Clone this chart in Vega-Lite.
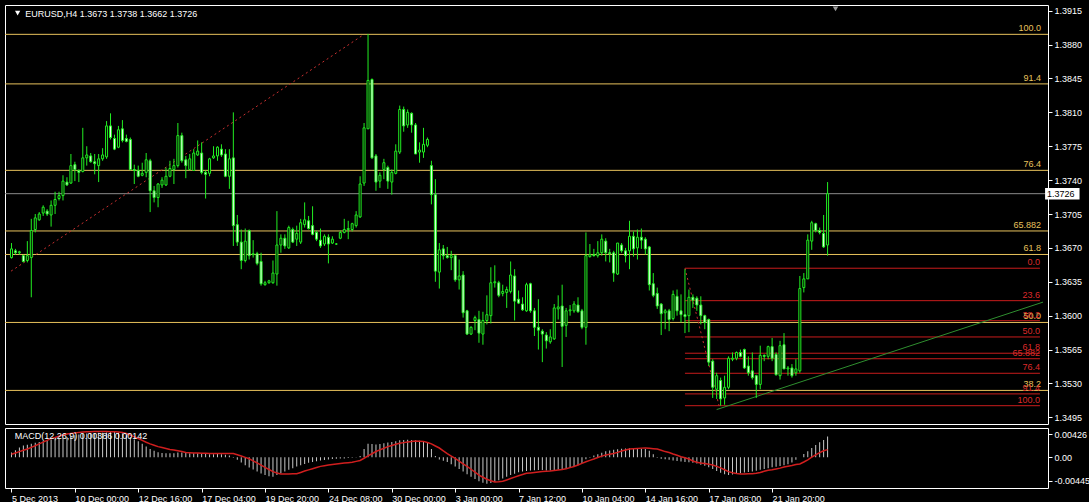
{
"$schema": "https://vega.github.io/schema/vega-lite/v6.json",
"background": "#000000",
"padding": {"left": 4, "top": 4, "right": 0, "bottom": 0},
"spacing": 2,
"config": {
 "view": {"stroke": "#FFFFFF", "strokeWidth": 1},
 "axis": {"labelColor": "#FFFFFF", "tickColor": "#FFFFFF", "domain": false, "grid": false, "labelFont": "Liberation Sans", "labelFontSize": 9, "tickSize": 4, "labelPadding": 2, "labelOverlap": false, "labelBound": false}
},
"datasets": {
"candles": [
{"i":0,"o":1.3660,"h":1.3675,"l":1.3659,"c":1.3669},
{"i":1,"o":1.3667,"h":1.3669,"l":1.3663,"c":1.3665},
{"i":2,"o":1.3665,"h":1.3667,"l":1.3663,"c":1.3666},
{"i":3,"o":1.3662,"h":1.3663,"l":1.3655,"c":1.3656},
{"i":4,"o":1.3657,"h":1.3677,"l":1.3655,"c":1.3662},
{"i":5,"o":1.3660,"h":1.3700,"l":1.3619,"c":1.3688},
{"i":6,"o":1.3689,"h":1.3705,"l":1.3686,"c":1.3701},
{"i":7,"o":1.3699,"h":1.3707,"l":1.3698,"c":1.3705},
{"i":8,"o":1.3706,"h":1.3714,"l":1.3703,"c":1.3712},
{"i":9,"o":1.3708,"h":1.3710,"l":1.3703,"c":1.3705},
{"i":10,"o":1.3704,"h":1.3719,"l":1.3692,"c":1.3714},
{"i":11,"o":1.3714,"h":1.3728,"l":1.3705,"c":1.3720},
{"i":12,"o":1.3721,"h":1.3728,"l":1.3719,"c":1.3724},
{"i":13,"o":1.3724,"h":1.3745,"l":1.3719,"c":1.3739},
{"i":14,"o":1.3738,"h":1.3743,"l":1.3734,"c":1.3735},
{"i":15,"o":1.3737,"h":1.3767,"l":1.3736,"c":1.3755},
{"i":16,"o":1.3756,"h":1.3759,"l":1.3739,"c":1.3751},
{"i":17,"o":1.3750,"h":1.3751,"l":1.3738,"c":1.3748},
{"i":18,"o":1.3749,"h":1.3794,"l":1.3748,"c":1.3763},
{"i":19,"o":1.3763,"h":1.3775,"l":1.3755,"c":1.3766},
{"i":20,"o":1.3765,"h":1.3768,"l":1.3758,"c":1.3759},
{"i":21,"o":1.3759,"h":1.3767,"l":1.3746,"c":1.3757},
{"i":22,"o":1.3755,"h":1.3767,"l":1.3738,"c":1.3762},
{"i":23,"o":1.3762,"h":1.3773,"l":1.3760,"c":1.3766},
{"i":24,"o":1.3764,"h":1.3801,"l":1.3762,"c":1.3796},
{"i":25,"o":1.3796,"h":1.3809,"l":1.3782,"c":1.3784},
{"i":26,"o":1.3783,"h":1.3787,"l":1.3771,"c":1.3772},
{"i":27,"o":1.3774,"h":1.3796,"l":1.3773,"c":1.3792},
{"i":28,"o":1.3793,"h":1.3802,"l":1.3779,"c":1.3781},
{"i":29,"o":1.3783,"h":1.3787,"l":1.3779,"c":1.3780},
{"i":30,"o":1.3782,"h":1.3784,"l":1.3750,"c":1.3751},
{"i":31,"o":1.3751,"h":1.3756,"l":1.3736,"c":1.3750},
{"i":32,"o":1.3750,"h":1.3755,"l":1.3743,"c":1.3744},
{"i":33,"o":1.3745,"h":1.3758,"l":1.3744,"c":1.3747},
{"i":34,"o":1.3748,"h":1.3768,"l":1.3743,"c":1.3761},
{"i":35,"o":1.3760,"h":1.3762,"l":1.3707,"c":1.3729},
{"i":36,"o":1.3729,"h":1.3734,"l":1.3717,"c":1.3722},
{"i":37,"o":1.3722,"h":1.3737,"l":1.3712,"c":1.3736},
{"i":38,"o":1.3735,"h":1.3743,"l":1.3732,"c":1.3740},
{"i":39,"o":1.3735,"h":1.3753,"l":1.3734,"c":1.3744},
{"i":40,"o":1.3744,"h":1.3760,"l":1.3743,"c":1.3752},
{"i":41,"o":1.3751,"h":1.3762,"l":1.3736,"c":1.3755},
{"i":42,"o":1.3755,"h":1.3799,"l":1.3753,"c":1.3786},
{"i":43,"o":1.3786,"h":1.3789,"l":1.3758,"c":1.3760},
{"i":44,"o":1.3761,"h":1.3765,"l":1.3742,"c":1.3755},
{"i":45,"o":1.3751,"h":1.3767,"l":1.3750,"c":1.3762},
{"i":46,"o":1.3750,"h":1.3772,"l":1.3750,"c":1.3768},
{"i":47,"o":1.3766,"h":1.3781,"l":1.3765,"c":1.3770},
{"i":48,"o":1.3768,"h":1.3779,"l":1.3746,"c":1.3748},
{"i":49,"o":1.3748,"h":1.3750,"l":1.3721,"c":1.3746},
{"i":50,"o":1.3747,"h":1.3763,"l":1.3744,"c":1.3762},
{"i":51,"o":1.3763,"h":1.3775,"l":1.3762,"c":1.3765},
{"i":52,"o":1.3765,"h":1.3775,"l":1.3760,"c":1.3774},
{"i":53,"o":1.3772,"h":1.3777,"l":1.3764,"c":1.3766},
{"i":54,"o":1.3767,"h":1.3772,"l":1.3743,"c":1.3744},
{"i":55,"o":1.3744,"h":1.3772,"l":1.3731,"c":1.3762},
{"i":56,"o":1.3763,"h":1.3810,"l":1.3672,"c":1.3693},
{"i":57,"o":1.3694,"h":1.3704,"l":1.3672,"c":1.3676},
{"i":58,"o":1.3676,"h":1.3689,"l":1.3648,"c":1.3657},
{"i":59,"o":1.3657,"h":1.3690,"l":1.3655,"c":1.3677},
{"i":60,"o":1.3688,"h":1.3689,"l":1.3658,"c":1.3662},
{"i":61,"o":1.3663,"h":1.3678,"l":1.3660,"c":1.3664},
{"i":62,"o":1.3664,"h":1.3666,"l":1.3652,"c":1.3654},
{"i":63,"o":1.3656,"h":1.3665,"l":1.3631,"c":1.3633},
{"i":64,"o":1.3632,"h":1.3636,"l":1.3631,"c":1.3634},
{"i":65,"o":1.3634,"h":1.3637,"l":1.3633,"c":1.3636},
{"i":66,"o":1.3634,"h":1.3657,"l":1.3633,"c":1.3644},
{"i":67,"o":1.3643,"h":1.3708,"l":1.3631,"c":1.3673},
{"i":68,"o":1.3673,"h":1.3684,"l":1.3665,"c":1.3680},
{"i":69,"o":1.3680,"h":1.3684,"l":1.3669,"c":1.3672},
{"i":70,"o":1.3670,"h":1.3693,"l":1.3669,"c":1.3691},
{"i":71,"o":1.3689,"h":1.3691,"l":1.3675,"c":1.3676},
{"i":72,"o":1.3679,"h":1.3693,"l":1.3672,"c":1.3685},
{"i":73,"o":1.3676,"h":1.3700,"l":1.3674,"c":1.3696},
{"i":74,"o":1.3694,"h":1.3717,"l":1.3691,"c":1.3699},
{"i":75,"o":1.3698,"h":1.3703,"l":1.3689,"c":1.3690},
{"i":76,"o":1.3693,"h":1.3713,"l":1.3683,"c":1.3684},
{"i":77,"o":1.3686,"h":1.3688,"l":1.3677,"c":1.3679},
{"i":78,"o":1.3678,"h":1.3690,"l":1.3670,"c":1.3672},
{"i":79,"o":1.3674,"h":1.3684,"l":1.3672,"c":1.3682},
{"i":80,"o":1.3681,"h":1.3684,"l":1.3654,"c":1.3674},
{"i":81,"o":1.3675,"h":1.3682,"l":1.3674,"c":1.3679},
{"i":82,"o":1.3674,"h":1.3675,"l":1.3673,"c":1.3674},
{"i":83,"o":1.3680,"h":1.3688,"l":1.3679,"c":1.3686},
{"i":84,"o":1.3686,"h":1.3700,"l":1.3685,"c":1.3689},
{"i":85,"o":1.3689,"h":1.3698,"l":1.3679,"c":1.3690},
{"i":86,"o":1.3689,"h":1.3696,"l":1.3687,"c":1.3695},
{"i":87,"o":1.3693,"h":1.3708,"l":1.3691,"c":1.3704},
{"i":88,"o":1.3702,"h":1.3744,"l":1.3701,"c":1.3736},
{"i":89,"o":1.3737,"h":1.3799,"l":1.3734,"c":1.3794},
{"i":90,"o":1.3793,"h":1.3891,"l":1.3793,"c":1.3843},
{"i":91,"o":1.3844,"h":1.3845,"l":1.3762,"c":1.3763},
{"i":92,"o":1.3765,"h":1.3767,"l":1.3729,"c":1.3738},
{"i":93,"o":1.3739,"h":1.3748,"l":1.3732,"c":1.3745},
{"i":94,"o":1.3751,"h":1.3762,"l":1.3741,"c":1.3758},
{"i":95,"o":1.3753,"h":1.3755,"l":1.3731,"c":1.3739},
{"i":96,"o":1.3738,"h":1.3751,"l":1.3725,"c":1.3748},
{"i":97,"o":1.3747,"h":1.3777,"l":1.3746,"c":1.3770},
{"i":98,"o":1.3769,"h":1.3817,"l":1.3767,"c":1.3813},
{"i":99,"o":1.3813,"h":1.3816,"l":1.3790,"c":1.3796},
{"i":100,"o":1.3797,"h":1.3813,"l":1.3794,"c":1.3810},
{"i":101,"o":1.3809,"h":1.3810,"l":1.3789,"c":1.3797},
{"i":102,"o":1.3797,"h":1.3799,"l":1.3767,"c":1.3767},
{"i":103,"o":1.3769,"h":1.3779,"l":1.3758,"c":1.3771},
{"i":104,"o":1.3769,"h":1.3794,"l":1.3763,"c":1.3777},
{"i":105,"o":1.3776,"h":1.3784,"l":1.3774,"c":1.3782},
{"i":106,"o":1.3755,"h":1.3760,"l":1.3715,"c":1.3725},
{"i":107,"o":1.3725,"h":1.3741,"l":1.3635,"c":1.3646},
{"i":108,"o":1.3645,"h":1.3675,"l":1.3628,"c":1.3668},
{"i":109,"o":1.3669,"h":1.3673,"l":1.3658,"c":1.3662},
{"i":110,"o":1.3662,"h":1.3671,"l":1.3659,"c":1.3660},
{"i":111,"o":1.3660,"h":1.3667,"l":1.3647,"c":1.3662},
{"i":112,"o":1.3662,"h":1.3663,"l":1.3635,"c":1.3637},
{"i":113,"o":1.3637,"h":1.3658,"l":1.3627,"c":1.3641},
{"i":114,"o":1.3642,"h":1.3646,"l":1.3598,"c":1.3603},
{"i":115,"o":1.3605,"h":1.3606,"l":1.3580,"c":1.3581},
{"i":116,"o":1.3581,"h":1.3589,"l":1.3580,"c":1.3588},
{"i":117,"o":1.3595,"h":1.3600,"l":1.3585,"c":1.3598},
{"i":118,"o":1.3596,"h":1.3605,"l":1.3572,"c":1.3582},
{"i":119,"o":1.3581,"h":1.3604,"l":1.3570,"c":1.3595},
{"i":120,"o":1.3595,"h":1.3621,"l":1.3591,"c":1.3601},
{"i":121,"o":1.3600,"h":1.3650,"l":1.3592,"c":1.3634},
{"i":122,"o":1.3634,"h":1.3652,"l":1.3629,"c":1.3635},
{"i":123,"o":1.3634,"h":1.3636,"l":1.3619,"c":1.3621},
{"i":124,"o":1.3623,"h":1.3632,"l":1.3620,"c":1.3625},
{"i":125,"o":1.3624,"h":1.3630,"l":1.3608,"c":1.3627},
{"i":126,"o":1.3625,"h":1.3656,"l":1.3623,"c":1.3642},
{"i":127,"o":1.3641,"h":1.3648,"l":1.3595,"c":1.3615},
{"i":128,"o":1.3617,"h":1.3626,"l":1.3612,"c":1.3613},
{"i":129,"o":1.3612,"h":1.3619,"l":1.3605,"c":1.3606},
{"i":130,"o":1.3605,"h":1.3634,"l":1.3604,"c":1.3632},
{"i":131,"o":1.3633,"h":1.3634,"l":1.3603,"c":1.3605},
{"i":132,"o":1.3605,"h":1.3608,"l":1.3579,"c":1.3588},
{"i":133,"o":1.3588,"h":1.3617,"l":1.3565,"c":1.3585},
{"i":134,"o":1.3584,"h":1.3586,"l":1.3552,"c":1.3581},
{"i":135,"o":1.3580,"h":1.3583,"l":1.3566,"c":1.3574},
{"i":136,"o":1.3573,"h":1.3586,"l":1.3571,"c":1.3578},
{"i":137,"o":1.3576,"h":1.3612,"l":1.3575,"c":1.3608},
{"i":138,"o":1.3607,"h":1.3621,"l":1.3596,"c":1.3609},
{"i":139,"o":1.3610,"h":1.3632,"l":1.3547,"c":1.3589},
{"i":140,"o":1.3590,"h":1.3608,"l":1.3578,"c":1.3605},
{"i":141,"o":1.3605,"h":1.3611,"l":1.3600,"c":1.3606},
{"i":142,"o":1.3605,"h":1.3615,"l":1.3603,"c":1.3612},
{"i":143,"o":1.3611,"h":1.3619,"l":1.3603,"c":1.3604},
{"i":144,"o":1.3605,"h":1.3607,"l":1.3586,"c":1.3588},
{"i":145,"o":1.3588,"h":1.3686,"l":1.3570,"c":1.3662},
{"i":146,"o":1.3661,"h":1.3674,"l":1.3660,"c":1.3663},
{"i":147,"o":1.3663,"h":1.3669,"l":1.3661,"c":1.3662},
{"i":148,"o":1.3662,"h":1.3677,"l":1.3660,"c":1.3665},
{"i":149,"o":1.3665,"h":1.3684,"l":1.3662,"c":1.3679},
{"i":150,"o":1.3677,"h":1.3680,"l":1.3656,"c":1.3665},
{"i":151,"o":1.3665,"h":1.3669,"l":1.3655,"c":1.3664},
{"i":152,"o":1.3665,"h":1.3667,"l":1.3635,"c":1.3644},
{"i":153,"o":1.3643,"h":1.3675,"l":1.3642,"c":1.3675},
{"i":154,"o":1.3673,"h":1.3675,"l":1.3665,"c":1.3667},
{"i":155,"o":1.3667,"h":1.3670,"l":1.3655,"c":1.3662},
{"i":156,"o":1.3667,"h":1.3698,"l":1.3648,"c":1.3682},
{"i":157,"o":1.3682,"h":1.3687,"l":1.3661,"c":1.3669},
{"i":158,"o":1.3670,"h":1.3689,"l":1.3658,"c":1.3681},
{"i":159,"o":1.3681,"h":1.3690,"l":1.3669,"c":1.3678},
{"i":160,"o":1.3679,"h":1.3681,"l":1.3663,"c":1.3669},
{"i":161,"o":1.3671,"h":1.3672,"l":1.3626,"c":1.3632},
{"i":162,"o":1.3633,"h":1.3644,"l":1.3619,"c":1.3621},
{"i":163,"o":1.3623,"h":1.3629,"l":1.3607,"c":1.3610},
{"i":164,"o":1.3612,"h":1.3613,"l":1.3580,"c":1.3602},
{"i":165,"o":1.3603,"h":1.3607,"l":1.3586,"c":1.3605},
{"i":166,"o":1.3605,"h":1.3607,"l":1.3584,"c":1.3596},
{"i":167,"o":1.3597,"h":1.3626,"l":1.3595,"c":1.3622},
{"i":168,"o":1.3620,"h":1.3627,"l":1.3600,"c":1.3605},
{"i":169,"o":1.3605,"h":1.3622,"l":1.3593,"c":1.3601},
{"i":170,"o":1.3601,"h":1.3648,"l":1.3582,"c":1.3599},
{"i":171,"o":1.3600,"h":1.3627,"l":1.3583,"c":1.3619},
{"i":172,"o":1.3619,"h":1.3622,"l":1.3608,"c":1.3616},
{"i":173,"o":1.3618,"h":1.3620,"l":1.3605,"c":1.3611},
{"i":174,"o":1.3611,"h":1.3620,"l":1.3591,"c":1.3600},
{"i":175,"o":1.3600,"h":1.3601,"l":1.3586,"c":1.3593},
{"i":176,"o":1.3596,"h":1.3597,"l":1.3548,"c":1.3552},
{"i":177,"o":1.3553,"h":1.3555,"l":1.3515,"c":1.3526},
{"i":178,"o":1.3524,"h":1.3541,"l":1.3514,"c":1.3538},
{"i":179,"o":1.3533,"h":1.3536,"l":1.3507,"c":1.3514},
{"i":180,"o":1.3515,"h":1.3538,"l":1.3508,"c":1.3526},
{"i":181,"o":1.3526,"h":1.3558,"l":1.3524,"c":1.3556},
{"i":182,"o":1.3555,"h":1.3562,"l":1.3553,"c":1.3556},
{"i":183,"o":1.3556,"h":1.3563,"l":1.3554,"c":1.3562},
{"i":184,"o":1.3562,"h":1.3565,"l":1.3557,"c":1.3558},
{"i":185,"o":1.3565,"h":1.3566,"l":1.3545,"c":1.3546},
{"i":186,"o":1.3548,"h":1.3558,"l":1.3538,"c":1.3541},
{"i":187,"o":1.3543,"h":1.3562,"l":1.3534,"c":1.3536},
{"i":188,"o":1.3538,"h":1.3539,"l":1.3515,"c":1.3529},
{"i":189,"o":1.3529,"h":1.3569,"l":1.3524,"c":1.3559},
{"i":190,"o":1.3559,"h":1.3560,"l":1.3553,"c":1.3558},
{"i":191,"o":1.3558,"h":1.3569,"l":1.3555,"c":1.3568},
{"i":192,"o":1.3568,"h":1.3577,"l":1.3553,"c":1.3556},
{"i":193,"o":1.3560,"h":1.3562,"l":1.3538,"c":1.3539},
{"i":194,"o":1.3538,"h":1.3574,"l":1.3534,"c":1.3569},
{"i":195,"o":1.3570,"h":1.3582,"l":1.3545,"c":1.3545},
{"i":196,"o":1.3545,"h":1.3548,"l":1.3538,"c":1.3546},
{"i":197,"o":1.3546,"h":1.3550,"l":1.3536,"c":1.3538},
{"i":198,"o":1.3541,"h":1.3555,"l":1.3538,"c":1.3545},
{"i":199,"o":1.3543,"h":1.3641,"l":1.3541,"c":1.3628},
{"i":200,"o":1.3629,"h":1.3644,"l":1.3624,"c":1.3638},
{"i":201,"o":1.3638,"h":1.3684,"l":1.3638,"c":1.3678},
{"i":202,"o":1.3677,"h":1.3698,"l":1.3668,"c":1.3696},
{"i":203,"o":1.3695,"h":1.3696,"l":1.3686,"c":1.3688},
{"i":204,"o":1.3688,"h":1.3691,"l":1.3684,"c":1.3686},
{"i":205,"o":1.3685,"h":1.3704,"l":1.3670,"c":1.3671},
{"i":206,"o":1.3673,"h":1.3738,"l":1.3662,"c":1.3726}
],
"macd": [
{"i":0,"m":0.00088,"s":0.00055},{"i":1,"m":0.0013,"s":0.0008},{"i":2,"m":0.0018,"s":0.00105},{"i":3,"m":0.00218,"s":0.0013},{"i":4,"m":0.00235,"s":0.00153},
{"i":5,"m":0.0025,"s":0.00185},{"i":6,"m":0.0027,"s":0.00215},{"i":7,"m":0.00283,"s":0.0025},{"i":8,"m":0.003,"s":0.00283},{"i":9,"m":0.00315,"s":0.00315},
{"i":10,"m":0.0033,"s":0.00348},{"i":11,"m":0.0034,"s":0.0037},{"i":12,"m":0.0035,"s":0.00395},{"i":13,"m":0.00365,"s":0.00415},{"i":14,"m":0.0038,"s":0.00433},
{"i":15,"m":0.00395,"s":0.00445},{"i":16,"m":0.00413,"s":0.00455},{"i":17,"m":0.00425,"s":0.00465},{"i":18,"m":0.00435,"s":0.0047},{"i":19,"m":0.00445,"s":0.00475},
{"i":20,"m":0.0045,"s":0.00478},{"i":21,"m":0.00455,"s":0.0048},{"i":22,"m":0.0046,"s":0.0048},{"i":23,"m":0.0046,"s":0.0048},{"i":24,"m":0.00465,"s":0.0048},
{"i":25,"m":0.0047,"s":0.00478},{"i":26,"m":0.0047,"s":0.00475},{"i":27,"m":0.00465,"s":0.0047},{"i":28,"m":0.0045,"s":0.00465},{"i":29,"m":0.00413,"s":0.00445},
{"i":30,"m":0.0038,"s":0.00415},{"i":31,"m":0.0033,"s":0.0038},{"i":32,"m":0.003,"s":0.0035},{"i":33,"m":0.0025,"s":0.00316},{"i":34,"m":0.002,"s":0.0028},
{"i":35,"m":0.00153,"s":0.0025},{"i":36,"m":0.0012,"s":0.00225},{"i":37,"m":0.00095,"s":0.00198},{"i":38,"m":0.0008,"s":0.0018},{"i":39,"m":0.00075,"s":0.00163},
{"i":40,"m":0.00075,"s":0.00146},{"i":41,"m":0.00075,"s":0.00133},{"i":42,"m":0.0009,"s":0.0012},{"i":43,"m":0.0009,"s":0.00105},{"i":44,"m":0.0008,"s":0.00088},
{"i":45,"m":0.00075,"s":0.00084},{"i":46,"m":0.00075,"s":0.0008},{"i":47,"m":0.00075,"s":0.00077},{"i":48,"m":0.0007,"s":0.00075},{"i":49,"m":0.0006,"s":0.00073},
{"i":50,"m":0.00055,"s":0.0007},{"i":51,"m":0.00055,"s":0.00069},{"i":52,"m":0.0006,"s":0.00068},{"i":53,"m":0.00055,"s":0.00068},{"i":54,"m":0.00045,"s":0.00068},
{"i":55,"m":0.0003,"s":0.00068},{"i":56,"m":-0.0001,"s":0.00068},{"i":57,"m":-0.0005,"s":0.00045},{"i":58,"m":-0.001,"s":0.00023},{"i":59,"m":-0.0015,"s":-0.00003},
{"i":60,"m":-0.00192,"s":-0.00029},{"i":61,"m":-0.0023,"s":-0.0007},{"i":62,"m":-0.0027,"s":-0.00107},{"i":63,"m":-0.00305,"s":-0.0015},{"i":64,"m":-0.00335,"s":-0.00192},
{"i":65,"m":-0.00355,"s":-0.0023},{"i":66,"m":-0.00367,"s":-0.0027},{"i":67,"m":-0.00335,"s":-0.00295},{"i":68,"m":-0.00302,"s":-0.00315},{"i":69,"m":-0.0027,"s":-0.00315},
{"i":70,"m":-0.00237,"s":-0.00313},{"i":71,"m":-0.00205,"s":-0.0031},{"i":72,"m":-0.00172,"s":-0.00309},{"i":73,"m":-0.0015,"s":-0.00285},{"i":74,"m":-0.00127,"s":-0.0026},
{"i":75,"m":-0.00105,"s":-0.00237},{"i":76,"m":-0.00088,"s":-0.00215},{"i":77,"m":-0.00075,"s":-0.00193},{"i":78,"m":-0.00062,"s":-0.00172},{"i":79,"m":-0.00052,"s":-0.0016},
{"i":80,"m":-0.00042,"s":-0.00148},{"i":81,"m":-0.00035,"s":-0.00137},{"i":82,"m":-0.0003,"s":-0.00127},{"i":83,"m":-0.00026,"s":-0.00118},{"i":84,"m":-0.00023,"s":-0.0011},
{"i":85,"m":-0.00016,"s":-0.00102},{"i":86,"m":-0.0001,"s":-0.00094},{"i":87,"m":0.00005,"s":-0.00078},{"i":88,"m":0.00023,"s":-0.00062},{"i":89,"m":0.00153,"s":-0.0002},
{"i":90,"m":0.0025,"s":0.00023},{"i":91,"m":0.00245,"s":0.00065},{"i":92,"m":0.00237,"s":0.00107},{"i":93,"m":0.00245,"s":0.00137},{"i":94,"m":0.00263,"s":0.00168},
{"i":95,"m":0.00275,"s":0.00198},{"i":96,"m":0.00283,"s":0.0022},{"i":97,"m":0.003,"s":0.00242},{"i":98,"m":0.00316,"s":0.00263},{"i":99,"m":0.00323,"s":0.00273},
{"i":100,"m":0.00328,"s":0.00283},{"i":101,"m":0.00323,"s":0.00293},{"i":102,"m":0.00316,"s":0.00302},{"i":103,"m":0.0031,"s":0.003},{"i":104,"m":0.00302,"s":0.00296},
{"i":105,"m":0.00283,"s":0.00275},{"i":106,"m":0.00153,"s":0.0025},{"i":107,"m":0.00023,"s":0.0021},{"i":108,"m":-0.00042,"s":0.00172},{"i":109,"m":-0.00065,"s":0.0012},
{"i":110,"m":-0.00088,"s":0.00068},{"i":111,"m":-0.0013,"s":0.00022},{"i":112,"m":-0.00172,"s":-0.00023},{"i":113,"m":-0.0022,"s":-0.00073},{"i":114,"m":-0.0027,"s":-0.00123},
{"i":115,"m":-0.0032,"s":-0.00172},{"i":116,"m":-0.00367,"s":-0.00226},{"i":117,"m":-0.0041,"s":-0.0028},{"i":118,"m":-0.00452,"s":-0.00335},{"i":119,"m":-0.0048,"s":-0.00375},
{"i":120,"m":-0.00497,"s":-0.00413},{"i":121,"m":-0.00485,"s":-0.0044},{"i":122,"m":-0.00465,"s":-0.00465},{"i":123,"m":-0.0043,"s":-0.0046},{"i":124,"m":-0.004,"s":-0.00452},
{"i":125,"m":-0.00367,"s":-0.00426},{"i":126,"m":-0.00335,"s":-0.004},{"i":127,"m":-0.0031,"s":-0.00374},{"i":128,"m":-0.00283,"s":-0.00348},{"i":129,"m":-0.0027,"s":-0.00325},
{"i":130,"m":-0.00257,"s":-0.00302},{"i":131,"m":-0.0025,"s":-0.00295},{"i":132,"m":-0.00245,"s":-0.00287},{"i":133,"m":-0.0024,"s":-0.00278},{"i":134,"m":-0.0024,"s":-0.0027},
{"i":135,"m":-0.0025,"s":-0.00265},{"i":136,"m":-0.0025,"s":-0.0026},{"i":137,"m":-0.0024,"s":-0.0025},{"i":138,"m":-0.00235,"s":-0.0024},{"i":139,"m":-0.00235,"s":-0.0023},
{"i":140,"m":-0.0022,"s":-0.00215},{"i":141,"m":-0.002,"s":-0.00195},{"i":142,"m":-0.0018,"s":-0.00175},{"i":143,"m":-0.0015,"s":-0.00145},{"i":144,"m":-0.0011,"s":-0.00115},
{"i":145,"m":-0.0004,"s":-0.00085},{"i":146,"m":-0.0001,"s":-0.0006},{"i":147,"m":0.0003,"s":-0.00035},{"i":148,"m":0.00055,"s":-0.00005},{"i":149,"m":0.00085,"s":0.0002},
{"i":150,"m":0.0011,"s":0.0004},{"i":151,"m":0.00125,"s":0.00055},{"i":152,"m":0.0014,"s":0.00068},{"i":153,"m":0.0015,"s":0.0009},{"i":154,"m":0.0016,"s":0.00115},
{"i":155,"m":0.00165,"s":0.00135},{"i":156,"m":0.00166,"s":0.00153},{"i":157,"m":0.00165,"s":0.0016},{"i":158,"m":0.0016,"s":0.00165},{"i":159,"m":0.00158,"s":0.0017},
{"i":160,"m":0.00153,"s":0.00172},{"i":161,"m":0.0012,"s":0.00168},{"i":162,"m":0.00055,"s":0.0016},{"i":163,"m":-0.0001,"s":0.00153},{"i":164,"m":-0.0003,"s":0.0013},
{"i":165,"m":-0.0004,"s":0.00105},{"i":166,"m":-0.0005,"s":0.00088},{"i":167,"m":-0.00062,"s":0.0006},{"i":168,"m":-0.0007,"s":0.00035},{"i":169,"m":-0.0008,"s":0.0001},
{"i":170,"m":-0.00088,"s":-0.0001},{"i":171,"m":-0.00095,"s":-0.00035},{"i":172,"m":-0.00105,"s":-0.0007},{"i":173,"m":-0.0012,"s":-0.00094},{"i":174,"m":-0.0014,"s":-0.0011},
{"i":175,"m":-0.0016,"s":-0.0012},{"i":176,"m":-0.0019,"s":-0.0013},{"i":177,"m":-0.0022,"s":-0.00145},{"i":178,"m":-0.00257,"s":-0.00172},{"i":179,"m":-0.0029,"s":-0.002},
{"i":180,"m":-0.0032,"s":-0.00235},{"i":181,"m":-0.00335,"s":-0.0027},{"i":182,"m":-0.00325,"s":-0.0029},{"i":183,"m":-0.00315,"s":-0.00305},{"i":184,"m":-0.003,"s":-0.00313},
{"i":185,"m":-0.00285,"s":-0.00315},{"i":186,"m":-0.00275,"s":-0.00312},{"i":187,"m":-0.0027,"s":-0.00308},{"i":188,"m":-0.00255,"s":-0.00302},{"i":189,"m":-0.00235,"s":-0.00285},
{"i":190,"m":-0.0022,"s":-0.00265},{"i":191,"m":-0.00205,"s":-0.00245},{"i":192,"m":-0.0019,"s":-0.00237},{"i":193,"m":-0.0018,"s":-0.0022},{"i":194,"m":-0.00165,"s":-0.00205},
{"i":195,"m":-0.0015,"s":-0.00185},{"i":196,"m":-0.0013,"s":-0.0017},{"i":197,"m":-0.001,"s":-0.00155},{"i":198,"m":-0.0005,"s":-0.00135},{"i":199,"m":0.0,"s":-0.00127},
{"i":200,"m":0.0006,"s":-0.0009},{"i":201,"m":0.0011,"s":-0.0005},{"i":202,"m":0.0017,"s":0.0},{"i":203,"m":0.0023,"s":0.00045},{"i":204,"m":0.0028,"s":0.00085},
{"i":205,"m":0.0032,"s":0.0012},{"i":206,"m":0.00386,"s":0.00142}
],
"fibY": [
{"p":1.38906,"t":"100.0","b":259.9},{"p":1.38394,"t":"91.4","b":259.9},{"p":1.37501,"t":"76.4","b":259.9},{"p":1.36875,"t":"65.882","b":259.9},{"p":1.36632,"t":"61.8","b":259.9},{"p":1.3593,"t":"50.0","b":259.9},{"p":1.35228,"t":"38.2","b":259.9}
],
"fibR": [
{"p":1.3649,"t":"0.0","a":170,"b":259.6},{"p":1.36155,"t":"23.6","a":170,"b":259.6},{"p":1.35948,"t":"38.2","a":170,"b":259.6},{"p":1.3578,"t":"50.0","a":170,"b":259.6},{"p":1.35612,"t":"61.8","a":170,"b":259.6},{"p":1.35555,"t":"65.882","a":170,"b":259.6},{"p":1.35405,"t":"76.4","a":170,"b":259.6},{"p":1.35192,"t":"91.4","a":170,"b":259.6},{"p":1.3507,"t":"100.0","a":170,"b":259.6}
],
"dashes": [
{"g":"a","i":-0.1,"p":1.3646},{"g":"a","i":89,"p":1.38906},
{"g":"b","i":170,"p":1.3649},{"g":"b","i":178.6,"p":1.3507}
],
"trend": [
{"i":178,"p":1.3503},{"i":260.375,"p":1.3614}
]
},
"vconcat": [
{
"width": 1043, "height": 419,
"layer": [
{"data": {"name": "fibY"},
 "mark": {"type": "rule", "color": "#E8C25C", "strokeWidth": 1},
 "encoding": {"y": {"field": "p", "type": "quantitative", "title": null,
   "scale": {"domain": [1.34881, 1.39209], "zero": false, "nice": false},
   "axis": {"orient": "right", "values": [1.3495,1.353,1.3565,1.36,1.3635,1.367,1.3705,1.374,1.3775,1.381,1.3845,1.388,1.3915], "tickCount": 30, "format": ".4f", "labelOverlap": false, "labelBound": false}}}},
{"data": {"values": [{"p": 1.3726}]},
 "mark": {"type": "rule", "color": "#8A8A8A", "strokeWidth": 1},
 "encoding": {"y": {"field": "p", "type": "quantitative", "title": null, "scale": {"domain": [1.34881, 1.39209], "zero": false, "nice": false}}}},
{"data": {"name": "fibR"},
 "mark": {"type": "rule", "color": "#C81C1C", "strokeWidth": 1},
 "encoding": {
   "x": {"field": "a", "type": "quantitative", "title": null, "axis": null, "scale": {"domain": [-0.375, 260.375], "zero": false, "nice": false}},
   "x2": {"field": "b"},
   "y": {"field": "p", "type": "quantitative", "title": null, "scale": {"domain": [1.34881, 1.39209], "zero": false, "nice": false}}}},
{"data": {"name": "dashes"},
 "mark": {"type": "line", "color": "#C83030", "strokeWidth": 1, "strokeDash": [2, 3], "clip": true},
 "encoding": {
   "x": {"field": "i", "type": "quantitative", "title": null, "axis": null, "scale": {"domain": [-0.375, 260.375], "zero": false, "nice": false}},
   "y": {"field": "p", "type": "quantitative", "title": null, "scale": {"domain": [1.34881, 1.39209], "zero": false, "nice": false}},
   "detail": {"field": "g", "type": "nominal"}}},
{"data": {"name": "trend"},
 "mark": {"type": "line", "color": "#2F8F2F", "strokeWidth": 1, "clip": true},
 "encoding": {
   "x": {"field": "i", "type": "quantitative", "title": null, "axis": null, "scale": {"domain": [-0.375, 260.375], "zero": false, "nice": false}},
   "y": {"field": "p", "type": "quantitative", "title": null, "scale": {"domain": [1.34881, 1.39209], "zero": false, "nice": false}}}},
{"data": {"name": "candles"},
 "mark": {"type": "rule", "color": "#22EE22", "strokeWidth": 1},
 "encoding": {
   "x": {"field": "i", "type": "quantitative", "title": null, "axis": null, "scale": {"domain": [-0.375, 260.375], "zero": false, "nice": false}},
   "y": {"field": "l", "type": "quantitative", "title": null, "scale": {"domain": [1.34881, 1.39209], "zero": false, "nice": false}},
   "y2": {"field": "h"}}},
{"data": {"name": "candles"},
 "mark": {"type": "bar", "width": 2, "stroke": "#22EE22", "strokeWidth": 1},
 "encoding": {
   "x": {"field": "i", "type": "quantitative", "title": null, "axis": null, "scale": {"domain": [-0.375, 260.375], "zero": false, "nice": false}},
   "y": {"field": "o", "type": "quantitative", "title": null, "scale": {"domain": [1.34881, 1.39209], "zero": false, "nice": false}},
   "y2": {"field": "c"},
   "fill": {"condition": {"test": "datum.c < datum.o", "value": "#F0FFF0"}, "value": "#000000"}}},
{"data": {"name": "fibY"},
 "mark": {"type": "text", "color": "#E8C25C", "align": "right", "baseline": "bottom", "dy": -1, "font": "Liberation Sans", "fontSize": 9},
 "encoding": {
   "x": {"field": "b", "type": "quantitative", "title": null, "axis": null, "scale": {"domain": [-0.375, 260.375], "zero": false, "nice": false}},
   "y": {"field": "p", "type": "quantitative", "title": null, "scale": {"domain": [1.34881, 1.39209], "zero": false, "nice": false}},
   "text": {"field": "t", "type": "nominal"}}},
{"data": {"name": "fibR"},
 "mark": {"type": "text", "color": "#DD2A2A", "align": "right", "baseline": "bottom", "dy": -1, "font": "Liberation Sans", "fontSize": 9},
 "encoding": {
   "x": {"field": "b", "type": "quantitative", "title": null, "axis": null, "scale": {"domain": [-0.375, 260.375], "zero": false, "nice": false}},
   "y": {"field": "p", "type": "quantitative", "title": null, "scale": {"domain": [1.34881, 1.39209], "zero": false, "nice": false}},
   "text": {"field": "t", "type": "nominal"}}},
{"data": {"values": [{"i": 3.45, "p": 1.39116, "t": "EURUSD,H4  1.3673 1.3738 1.3662 1.3726"}]},
 "mark": {"type": "text", "color": "#FFFFFF", "align": "left", "baseline": "middle", "font": "Liberation Sans", "fontSize": 9},
 "encoding": {
   "x": {"field": "i", "type": "quantitative", "title": null, "axis": null, "scale": {"domain": [-0.375, 260.375], "zero": false, "nice": false}},
   "y": {"field": "p", "type": "quantitative", "title": null, "scale": {"domain": [1.34881, 1.39209], "zero": false, "nice": false}},
   "text": {"field": "t", "type": "nominal"}}},
{"data": {"values": [{"i": 1.55, "p": 1.39125}]},
 "mark": {"type": "point", "shape": "triangle-down", "filled": true, "opacity": 1, "color": "#FFFFFF", "size": 28},
 "encoding": {
   "x": {"field": "i", "type": "quantitative", "title": null, "axis": null, "scale": {"domain": [-0.375, 260.375], "zero": false, "nice": false}},
   "y": {"field": "p", "type": "quantitative", "title": null, "scale": {"domain": [1.34881, 1.39209], "zero": false, "nice": false}}}},
{"data": {"values": [{"i": 208, "p": 1.39168}]},
 "mark": {"type": "point", "shape": "triangle-down", "filled": true, "opacity": 1, "color": "#9A9A9A", "size": 30, "clip": true},
 "encoding": {
   "x": {"field": "i", "type": "quantitative", "title": null, "axis": null, "scale": {"domain": [-0.375, 260.375], "zero": false, "nice": false}},
   "y": {"field": "p", "type": "quantitative", "title": null, "scale": {"domain": [1.34881, 1.39209], "zero": false, "nice": false}}}},
{"data": {"values": [{"a": 260.9, "b": 269.6, "lo": 1.37201, "hi": 1.37319}]},
 "mark": {"type": "rect", "fill": "#FFFFFF"},
 "encoding": {
   "x": {"field": "a", "type": "quantitative", "title": null, "axis": null, "scale": {"domain": [-0.375, 260.375], "zero": false, "nice": false}},
   "x2": {"field": "b"},
   "y": {"field": "lo", "type": "quantitative", "title": null, "scale": {"domain": [1.34881, 1.39209], "zero": false, "nice": false}},
   "y2": {"field": "hi"}}},
{"data": {"values": [{"i": 261.4, "p": 1.3726, "t": "1.3726"}]},
 "mark": {"type": "text", "color": "#000000", "align": "left", "baseline": "middle", "font": "Liberation Sans", "fontSize": 9},
 "encoding": {
   "x": {"field": "i", "type": "quantitative", "title": null, "axis": null, "scale": {"domain": [-0.375, 260.375], "zero": false, "nice": false}},
   "y": {"field": "p", "type": "quantitative", "title": null, "scale": {"domain": [1.34881, 1.39209], "zero": false, "nice": false}},
   "text": {"field": "t", "type": "nominal"}}}
]
},
{
"width": 1043, "height": 60,
"layer": [
{"data": {"name": "macd"},
 "mark": {"type": "bar", "width": 1, "color": "#C8C8C8"},
 "encoding": {
   "x": {"field": "i", "type": "quantitative", "title": null,
     "scale": {"domain": [-0.375, 260.375], "zero": false, "nice": false},
     "axis": {"values": [0,16,32,48,64,80,96,112,128,144,160,176,192], "tickCount": 30, "labelAlign": "left", "labelFlush": false, "labelOverlap": false, "labelPadding": 2,
       "labelExpr": "['5 Dec 2013','10 Dec 00:00','12 Dec 16:00','17 Dec 04:00','19 Dec 20:00','24 Dec 08:00','30 Dec 00:00','3 Jan 00:00','7 Jan 12:00','10 Jan 04:00','14 Jan 16:00','17 Jan 08:00','21 Jan 20:00'][round(datum.value/16)]"}},
   "y": {"field": "m", "type": "quantitative", "title": null,
     "scale": {"domain": [-0.00577, 0.00547], "zero": true, "nice": false},
     "axis": {"orient": "right", "values": [0.00426, 0, -0.00445], "tickCount": 10, "labelOverlap": false, "labelBound": false,
       "labelExpr": "datum.value > 0.001 ? '0.00426' : (datum.value < -0.001 ? '-0.00445' : '0.00')"}}}},
{"data": {"name": "macd"},
 "mark": {"type": "line", "color": "#D01E1E", "strokeWidth": 1.5},
 "encoding": {
   "x": {"field": "i", "type": "quantitative", "title": null, "scale": {"domain": [-0.375, 260.375], "zero": false, "nice": false}},
   "y": {"field": "s", "type": "quantitative", "title": null, "scale": {"domain": [-0.00577, 0.00547], "zero": true, "nice": false}}}},
{"data": {"values": [{"i": 0.8, "v": 0.00397, "t": "MACD(12,26,9) 0.00386 0.00142"}]},
 "mark": {"type": "text", "color": "#FFFFFF", "align": "left", "baseline": "middle", "font": "Liberation Sans", "fontSize": 9},
 "encoding": {
   "x": {"field": "i", "type": "quantitative", "title": null, "scale": {"domain": [-0.375, 260.375], "zero": false, "nice": false}},
   "y": {"field": "v", "type": "quantitative", "title": null, "scale": {"domain": [-0.00577, 0.00547], "zero": true, "nice": false}},
   "text": {"field": "t", "type": "nominal"}}}
]
}
]
}
